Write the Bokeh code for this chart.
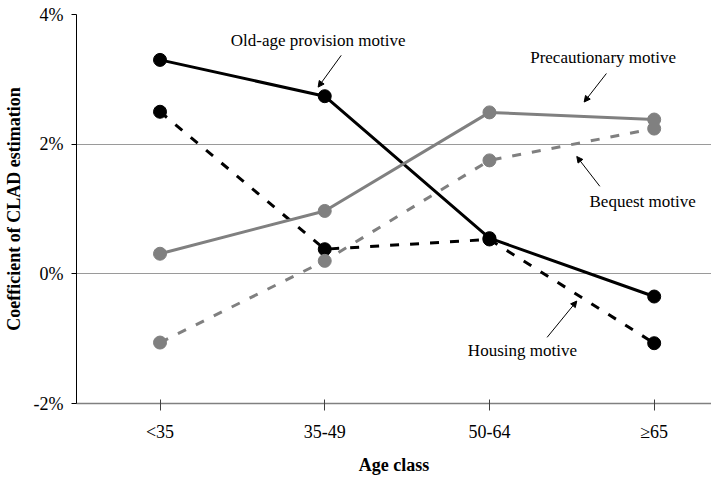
from bokeh.plotting import figure
from bokeh.models import FixedTicker, Arrow, NormalHead, ColumnDataSource, LabelSet
from bokeh.core.properties import value
from bokeh.embed import file_html
from bokeh.resources import INLINE

# ---- data ----
age_classes = ["<35", "35-49", "50-64", "≥65"]
old_age = [3.30, 2.74, 0.55, -0.35]
housing = [2.50, 0.38, 0.53, -1.07]
precautionary = [0.31, 0.97, 2.49, 2.38]
bequest = [-1.06, 0.20, 1.75, 2.24]
y_ticks = [-2, 0, 2, 4]
y_tick_labels = ["-2%", "0%", "2%", "4%"]

# annotation labels (data coordinates)
ann_text = ["Old-age provision motive", "Precautionary motive", "Bequest motive", "Housing motive"]
ann_x = [0.96, 2.69, 2.93, 2.20]
ann_y = [3.60, 3.34, 1.12, -1.19]
arr_x0 = [1.10, 2.71, 2.67, 2.35]
arr_y0 = [3.37, 3.09, 1.35, -0.98]
arr_x1 = [0.96, 2.575, 2.53, 2.53]
arr_y1 = [2.88, 2.65, 1.81, -0.42]

FONT = "Liberation Serif"
xs = list(range(len(age_classes)))

p = figure(width=711, height=477, output_backend="svg", toolbar_location=None,
           x_range=(-0.507, 3.348), y_range=(-2, 4),
           min_border_left=74, min_border_right=0, min_border_top=14, min_border_bottom=71)
p.outline_line_color = None
p.background_fill_color = "white"

# axes
p.xaxis.ticker = FixedTicker(ticks=xs)
p.xaxis.major_label_overrides = {i: lab for i, lab in zip(xs, age_classes)}
p.yaxis.ticker = FixedTicker(ticks=y_ticks)
p.yaxis.major_label_overrides = {t: lab for t, lab in zip(y_ticks, y_tick_labels)}

for ax in (p.xaxis[0], p.yaxis[0]):
    ax.major_label_text_font = FONT
    ax.major_label_text_font_size = "18px"
    ax.major_label_text_color = "black"
    ax.axis_label_text_font = FONT
    ax.axis_label_text_font_size = "18px"
    ax.axis_label_text_font_style = "bold"
    ax.axis_label_text_color = "black"
    ax.minor_tick_line_color = None

p.xaxis.axis_label = "Age class"
p.xaxis.axis_line_color = "#808080"
p.xaxis.axis_line_width = 1.5
p.xaxis.major_tick_line_color = "#404040"
p.xaxis.major_tick_in = 4
p.xaxis.major_tick_out = 7
p.xaxis.major_label_standoff = 11
p.xaxis.axis_label_standoff = 10

p.yaxis.axis_label = "Coefficient of CLAD estimation"
p.yaxis.axis_line_color = "black"
p.yaxis.axis_line_width = 1
p.yaxis.major_tick_line_color = "black"
p.yaxis.major_tick_in = 0
p.yaxis.major_tick_out = 5
p.yaxis.major_label_standoff = 8
p.yaxis.axis_label_standoff = 7

p.xgrid.grid_line_color = None
p.ygrid.ticker = FixedTicker(ticks=[0, 2, 4])
p.ygrid.grid_line_color = "#9a9a9a"
p.ygrid.grid_line_width = 1

# series
series = [
    (housing, "black", "9 11"),
    (old_age, "black", None),
    (precautionary, "#808080", None),
    (bequest, "#808080", "9 11"),
]
for vals, col, dash in series:
    kw = {}
    if dash:
        kw["line_dash"] = dash
    p.line(xs, vals, line_color=col, line_width=3, **kw)
    p.scatter(xs, vals, size=13, fill_color=col, line_color=col)

# annotations
src = ColumnDataSource(dict(x=ann_x, y=ann_y, t=ann_text))
p.add_layout(LabelSet(x="x", y="y", text="t", source=src, text_align="center",
                      text_baseline="middle", text_font=value(FONT),
                      text_font_size="17px", text_color="black"))
for a, b, c, d in zip(arr_x0, arr_y0, arr_x1, arr_y1):
    p.add_layout(Arrow(end=NormalHead(size=6, fill_color="black", line_color="black"),
                       x_start=a, y_start=b, x_end=c, y_end=d,
                       line_color="black", line_width=1))

open("out.html", "w").write(file_html(p, INLINE))
